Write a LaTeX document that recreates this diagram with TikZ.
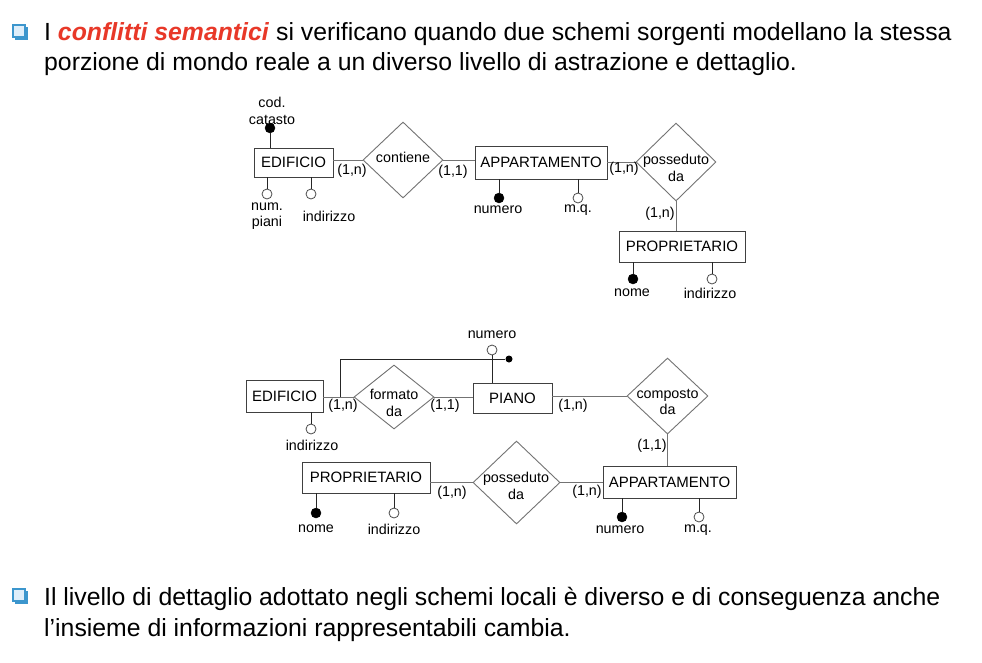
\documentclass[tikz,border=0pt]{standalone}
\usepackage{fontspec}
\setmainfont{Liberation Sans}
\usetikzlibrary{shapes.geometric}
\definecolor{redtxt}{RGB}{232,56,40}
\definecolor{bulletblue}{RGB}{60,150,205}
\definecolor{bulletfill}{RGB}{222,238,250}
\newcommand\dtxt{\fontsize{14.3}{16.5}\selectfont}
\newcommand\etxt{\fontsize{15}{17}\selectfont}
\newcommand\btxt{\fontsize{24.8}{30}\selectfont}
\begin{document}
\begin{tikzpicture}[x=1pt,y=-1pt,
  ent/.style={draw=black!75, fill=white, inner sep=0, font=\etxt, line width=0.9pt},
  rel/.style={diamond, draw=black!55, inner sep=0, line width=0.9pt},
  lnk/.style={draw=black!55, line width=0.9pt},
  att/.style={draw=black!85, line width=0.9pt},
  idattr/.style={circle, draw=black, fill=black, minimum size=10, inner sep=0},
  optattr/.style={circle, draw=black!70, fill=white, minimum size=10, inner sep=0, line width=0.8pt},
  lbl/.style={font=\dtxt, inner sep=0, align=center},
  bullet/.style={draw=bulletblue, fill=bulletfill, line width=1.3pt, minimum size=12, inner sep=0},
  body/.style={font=\btxt, anchor=base west, inner sep=0}
]
\useasboundingbox (0,0) rectangle (982,662);
\fill[white] (0,0) rectangle (982,662);

% ---- bullets and body text
\fill[bulletblue] (15,27) rectangle (28,40);
\node[bullet] (b1) at (19,31) {};
\node[body] (t1) at (44,40) {I \textcolor{redtxt}{\textbf{\textit{conflitti semantici}}} si verificano quando due schemi sorgenti modellano la stessa};
\node[body] (t2) at (44,70) {porzione di mondo reale a un diverso livello di astrazione e dettaglio.};

\fill[bulletblue] (15,591) rectangle (28,604);
\node[bullet] (b2) at (19,595) {};
\node[body] (t3) at (44,605) {Il livello di dettaglio adottato negli schemi locali è diverso e di conseguenza anche};
\node[body] (t4) at (44,636) {l’insieme di informazioni rappresentabili cambia.};

% ================= top schema
\node[ent, minimum width=79, minimum height=29] (e1) at (293.5,162.5) {EDIFICIO};
\node[rel, minimum width=80, minimum height=76] (r1) at (403,160) {};
\node[lbl] (r1t) at (403,157) {contiene};
\node[ent, minimum width=132, minimum height=33] (e2) at (541,162.5) {APPARTAMENTO};
\node[rel, minimum width=80, minimum height=78] (r2) at (676,162) {};
\node[lbl] (r2t) at (676,168) {posseduto\\da};
\node[ent, minimum width=126, minimum height=31] (e3) at (682,246.5) {PROPRIETARIO};

\draw[lnk] (r1.west -| e1.east) -- (r1.west);
\draw[lnk] (r1.east) -- (r1.east -| e2.west);
\draw[lnk] (r2.west -| e2.east) -- (r2.west);
\draw[lnk] (r2.south) -- (r2.south |- e3.north);

\node[lbl] (c1) at (352,171) {(1,n)};
\node[lbl] (c2) at (453,172) {(1,1)};
\node[lbl] (c3) at (624,169) {(1,n)};
\node[lbl] (c4) at (660,214) {(1,n)};

% attributes EDIFICIO
\node[idattr] (a1) at (270,128) {};
\draw[att] (a1) -- (a1 |- e1.north);
\node[lbl] (a1t) at (272,111) {cod.\\catasto};
\node[optattr] (a2) at (267,194) {};
\draw[att] (a2 |- e1.south) -- (a2);
\node[lbl] (a2t) at (267,216) {num.\\piani};
\node[optattr] (a3) at (311,194) {};
\draw[att] (a3 |- e1.south) -- (a3);
\node[lbl] (a3t) at (329,216) {indirizzo};
% attributes APPARTAMENTO
\node[idattr] (a4) at (499,198) {};
\draw[att] (a4 |- e2.south) -- (a4);
\node[lbl] (a4t) at (498,210) {numero};
\node[optattr] (a5) at (578,198) {};
\draw[att] (a5 |- e2.south) -- (a5);
\node[lbl] (a5t) at (578,210) {m.q.};
% attributes PROPRIETARIO
\node[idattr] (a6) at (633,279) {};
\draw[att] (a6 |- e3.south) -- (a6);
\node[lbl] (a6t) at (632,293) {nome};
\node[optattr] (a7) at (712,279) {};
\draw[att] (a7 |- e3.south) -- (a7);
\node[lbl] (a7t) at (710,293) {indirizzo};

% ================= bottom schema
\node[ent, minimum width=77, minimum height=32] (e4) at (284.5,396) {EDIFICIO};
\node[rel, minimum width=80, minimum height=64] (r3) at (394,397) {};
\node[lbl] (r3t) at (394,403) {formato\\da};
\node[ent, minimum width=79, minimum height=30] (e5) at (512.5,398) {PIANO};
\node[rel, minimum width=81, minimum height=76] (r4) at (667.5,396) {};
\node[lbl] (r4t) at (667.5,402) {composto\\da};
\node[ent, minimum width=133, minimum height=32] (e6) at (669.5,482) {APPARTAMENTO};
\node[rel, minimum width=87, minimum height=83] (r5) at (516.5,482.5) {};
\node[lbl] (r5t) at (516,486) {posseduto\\da};
\node[ent, minimum width=128, minimum height=31] (e7) at (366,477.5) {PROPRIETARIO};

\draw[lnk] (r3.west -| e4.east) -- (r3.west);
\draw[lnk] (r3.east) -- (r3.east -| e5.west);
\draw[lnk] (r4.west -| e5.east) -- (r4.west);
\draw[lnk] (r4.south) -- (r4.south |- e6.north);
\draw[lnk] (r5.east) -- (r5.east -| e6.west);
\draw[lnk] (r5.west -| e7.east) -- (r5.west);

\node[lbl] (c5) at (343,406) {(1,n)};
\node[lbl] (c6) at (445,406) {(1,1)};
\node[lbl] (c7) at (573,406) {(1,n)};
\node[lbl] (c8) at (652,446) {(1,1)};
\node[lbl] (c9) at (587,492) {(1,n)};
\node[lbl] (c10) at (452,493) {(1,n)};

% EDIFICIO attribute
\node[optattr] (b3) at (311,429) {};
\draw[att] (b3 |- e4.south) -- (b3);
\node[lbl] (b3t) at (312,445) {indirizzo};
% PIANO composite identifier
\node[optattr] (b4) at (492,350) {};
\draw[att] (b4) -- (b4 |- e5.north);
\node[lbl] (b4t) at (492,335) {numero};
\coordinate (k1) at (340,397);
\node[circle, fill=black, minimum size=7, inner sep=0] (kd) at (509,359) {};
\draw[att] (k1) |- (kd);
% APPARTAMENTO attributes
\node[idattr] (b5) at (622,517) {};
\draw[att] (b5 |- e6.south) -- (b5);
\node[lbl] (b5t) at (620,530) {numero};
\node[optattr] (b6) at (699,517) {};
\draw[att] (b6 |- e6.south) -- (b6);
\node[lbl] (b6t) at (698,530) {m.q.};
% PROPRIETARIO attributes
\node[idattr] (b7) at (316,513) {};
\draw[att] (b7 |- e7.south) -- (b7);
\node[lbl] (b7t) at (316,529) {nome};
\node[optattr] (b8) at (394,513) {};
\draw[att] (b8 |- e7.south) -- (b8);
\node[lbl] (b8t) at (394,529) {indirizzo};
\end{tikzpicture}
\end{document}
